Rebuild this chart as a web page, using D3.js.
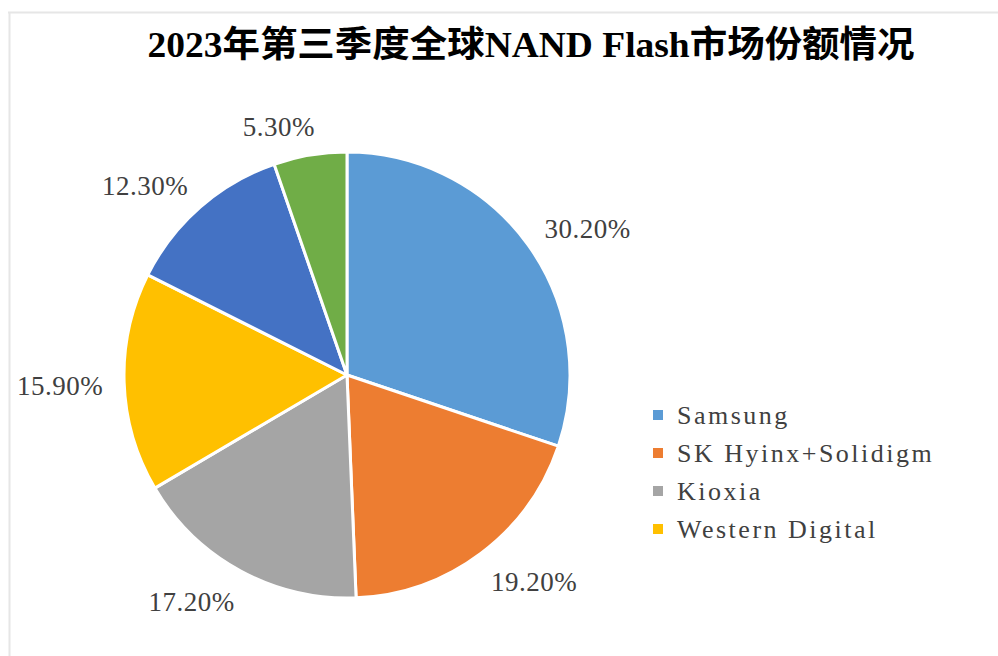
<!DOCTYPE html>
<html>
<head>
<meta charset="utf-8">
<script src="https://cdn.jsdelivr.net/npm/d3@7.9.0/dist/d3.min.js"></script>
<style>
  body { margin: 0; background: #fff; }
</style>
</head>
<body>
<svg id="chart" width="998" height="656"></svg>
<script>
const titleText = "2023年第三季度全球NAND Flash市场份额情况";
const companies = ["Samsung", "SK Hyinx+Solidigm", "Kioxia", "Western Digital", "Micron", "Others"];
const shares = [30.2, 19.2, 17.2, 15.9, 12.3, 5.3];
const colors = ["#5B9BD5", "#ED7D31", "#A5A5A5", "#FFC000", "#4472C4", "#70AD47"];
// only the first four made it into the legend in the original
const legendCount = 4;

const svg = d3.select("#chart");
const width = +svg.attr("width");
const height = +svg.attr("height");

const serif = "'Liberation Serif', 'Times New Roman', 'Noto Sans CJK SC', serif";

// faint frame on the top and left edges
svg.append("line")
  .attr("x1", 8).attr("x2", width)
  .attr("y1", 12.5).attr("y2", 12.5)
  .attr("stroke", "#e6e6e6").attr("stroke-width", 2);
svg.append("line")
  .attr("x1", 9.5).attr("x2", 9.5)
  .attr("y1", 12).attr("y2", height)
  .attr("stroke", "#e6e6e6").attr("stroke-width", 2);

svg.append("text")
  .attr("x", 531)
  .attr("y", 57)
  .attr("text-anchor", "middle")
  .attr("textLength", 767)
  .attr("lengthAdjust", "spacingAndGlyphs")
  .style("font-family", "'Liberation Serif', 'Noto Sans CJK SC', serif")
  .style("font-weight", "bold")
  .style("font-size", "36px")
  .attr("fill", "#000")
  .text(titleText);

const cx = 347, cy = 375, radius = 223;

const data = companies.map((name, i) => ({ name, value: shares[i], color: colors[i] }));

const pie = d3.pie()
  .value(d => d.value)
  .sort(null);

const arc = d3.arc()
  .innerRadius(0)
  .outerRadius(radius);

const arcs = pie(data);

const g = svg.append("g")
  .attr("transform", `translate(${cx},${cy})`);

g.selectAll(".slice")
  .data(arcs)
  .enter()
  .append("path")
  .attr("class", "slice")
  .attr("d", arc)
  .attr("fill", d => d.data.color)
  .attr("stroke", "#fff")
  .attr("stroke-width", 3)
  .attr("stroke-linejoin", "round");

// outside labels: pushed sideways a bit more than a plain circle would,
// the way excel's best-fit does it
function labelPos(d) {
  const a = (d.startAngle + d.endAngle) / 2;
  const s = Math.sin(a);
  const x = 202 * s + 85 * Math.sign(s) * Math.sqrt(Math.abs(s));
  const y = -Math.cos(a) * 255 + 3;
  return [x, y];
}

g.selectAll(".label")
  .data(arcs)
  .enter()
  .append("text")
  .attr("class", "label")
  .attr("x", d => labelPos(d)[0])
  .attr("y", d => labelPos(d)[1])
  .attr("text-anchor", "middle")
  .attr("dominant-baseline", "central")
  .style("font-family", serif)
  .style("font-size", "27px")
  .style("letter-spacing", "0.5px")
  .attr("fill", "#404040")
  .text(d => d.data.value.toFixed(2) + "%");

const legend = svg.append("g")
  .attr("transform", "translate(653,415)");

const rows = legend.selectAll(".row")
  .data(data.slice(0, legendCount))
  .enter()
  .append("g")
  .attr("class", "row")
  .attr("transform", (d, i) => `translate(0,${i * 38})`);

rows.append("rect")
  .attr("x", 0)
  .attr("y", -5)
  .attr("width", 10)
  .attr("height", 10)
  .attr("fill", d => d.color);

rows.append("text")
  .attr("x", 24)
  .attr("y", 0)
  .attr("dominant-baseline", "central")
  .style("font-family", serif)
  .style("font-size", "26px")
  .style("letter-spacing", "2.5px")
  .attr("fill", "#404040")
  .text(d => d.name);
</script>
</body>
</html>
